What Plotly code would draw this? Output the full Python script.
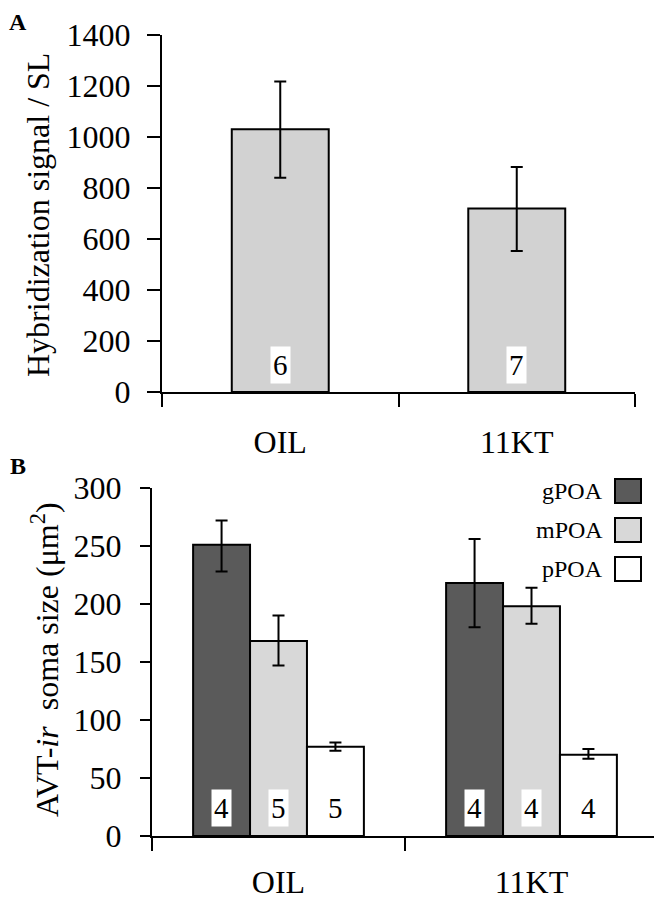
import plotly.graph_objects as go

# groups shared by both panels
groups = ["OIL", "11KT"]

# panel A: hybridization signal / SL
hyb_mean = [1030, 720]
hyb_upper = [1218, 882]
hyb_lower = [840, 553]
hyb_n = [6, 7]

# panel B: AVT-ir soma size by region
regions = ["gPOA", "mPOA", "pPOA"]
g_mean = [251, 218]
m_mean = [168, 198]
p_mean = [77, 70]
g_upper = [272, 256]
m_upper = [190, 214]
p_upper = [80.5, 75]
g_lower = [228, 180]
m_lower = [147, 183]
p_lower = [73.5, 66.5]
g_n = [4, 4]
m_n = [5, 4]
p_n = [5, 4]

region_colors = ["#5a5a5a", "#d8d8d8", "#ffffff"]
serif = "Liberation Serif"

# the page body has an 8px margin, so the figure is drawn 8px in from the window corner
PAGE_OFF = 8
W, H = 662 - PAGE_OFF, 899 - PAGE_OFF


def px_x(v):
    # window pixel -> paper fraction
    return (v - PAGE_OFF) / W


def px_y(v):
    return 1 - (v - PAGE_OFF) / H


fig = go.Figure()

# Panel A bars
fig.add_trace(go.Bar(
    x=groups, y=hyb_mean, width=0.41,
    marker=dict(color="#d2d2d2", line=dict(color="black", width=2)),
    error_y=dict(type="data", symmetric=False,
                 array=[u - m for u, m in zip(hyb_upper, hyb_mean)],
                 arrayminus=[m - l for m, l in zip(hyb_mean, hyb_lower)],
                 color="black", thickness=2, width=6),
    xaxis="x", yaxis="y", showlegend=False, hoverinfo="none"
))

# Panel B bars
bar_w = 0.225
means = [g_mean, m_mean, p_mean]
uppers = [g_upper, m_upper, p_upper]
lowers = [g_lower, m_lower, p_lower]
counts = [g_n, m_n, p_n]
for i, reg in enumerate(regions):
    fig.add_trace(go.Bar(
        x=groups, y=means[i], width=bar_w, offset=(i - 1.5) * bar_w,
        name=reg,
        marker=dict(color=region_colors[i], line=dict(color="black", width=2)),
        error_y=dict(type="data", symmetric=False,
                     array=[u - m for u, m in zip(uppers[i], means[i])],
                     arrayminus=[m - l for m, l in zip(means[i], lowers[i])],
                     color="black", thickness=2, width=6),
        xaxis="x2", yaxis="y2", showlegend=False, hoverinfo="none"
    ))

annotations = []
# sample sizes inside bars
for j, n in enumerate(hyb_n):
    annotations.append(dict(x=j, y=106, xref="x", yref="y", text=str(n), showarrow=False,
                            xanchor="center", yanchor="middle",
                            font=dict(family=serif, size=29, color="black"),
                            bgcolor="white", borderpad=2))
for i in range(len(regions)):
    for j, n in enumerate(counts[i]):
        annotations.append(dict(x=j + (i - 1) * bar_w, y=24, xref="x2", yref="y2", text=str(n),
                                showarrow=False, xanchor="center", yanchor="middle",
                                font=dict(family=serif, size=29, color="black"),
                                bgcolor="white", borderpad=2))

# legend drawn as text + square on the right
shapes = []
for i, reg in enumerate(regions):
    top = 479 + i * 39
    shapes.append(dict(type="rect", xref="paper", yref="paper",
                       x0=px_x(615), x1=px_x(641), y0=px_y(top + 24), y1=px_y(top),
                       fillcolor=region_colors[i], line=dict(color="black", width=2)))
    annotations.append(dict(x=px_x(605), y=px_y(top + 12), xref="paper", yref="paper",
                            xanchor="right", yanchor="middle", text=reg, showarrow=False,
                            font=dict(family=serif, size=24, color="black")))

# axis titles and panel letters
annotations.append(dict(x=px_x(38), y=px_y(215), xref="paper", yref="paper", textangle=-90,
                        xanchor="center", yanchor="middle",
                        text="Hybridization signal / SL", showarrow=False,
                        font=dict(family=serif, size=32, color="black")))
annotations.append(dict(x=px_x(45), y=px_y(660), xref="paper", yref="paper", textangle=-90,
                        xanchor="center", yanchor="middle",
                        text="AVT-<i>ir</i>\u00a0\u00a0soma size (\u03bcm<sup>2</sup>)", showarrow=False,
                        font=dict(family=serif, size=32, color="black")))
annotations.append(dict(x=px_x(18), y=px_y(8), xref="paper", yref="paper",
                        xanchor="center", yanchor="top", borderpad=0,
                        text="<b>A</b>", showarrow=False,
                        font=dict(family=serif, size=24, color="black")))
annotations.append(dict(x=px_x(18), y=px_y(466), xref="paper", yref="paper",
                        xanchor="center", yanchor="middle",
                        text="<b>B</b>", showarrow=False,
                        font=dict(family=serif, size=24, color="black")))

tick_font = dict(family=serif, size=32, color="black")
x_common = dict(type="category", range=[-0.5, 1.5], tickson="boundaries", ticks="outside",
                ticklen=13, tickwidth=2, tickcolor="black", showline=True, linewidth=2,
                linecolor="black", showgrid=False, zeroline=False, tickfont=tick_font,
                automargin=False)
y_common = dict(ticks="outside", tickwidth=2, tickcolor="black", showline=True, linewidth=2,
                linecolor="black", showgrid=False, zeroline=False, tickfont=tick_font,
                automargin=False)

fig.update_layout(
    template="none",
    width=W, height=H,
    margin=dict(l=0, r=0, t=0, b=0, pad=0),
    paper_bgcolor="white", plot_bgcolor="white",
    barmode="group",
    xaxis=dict(domain=[px_x(162), px_x(635)], anchor="y", ticklabelstandoff=21, **x_common),
    yaxis=dict(domain=[px_y(392), px_y(35)], anchor="x", range=[0, 1400], dtick=200,
               ticklen=13, ticklabelstandoff=10, **y_common),
    xaxis2=dict(domain=[px_x(152), px_x(658)], anchor="y2", ticklabelstandoff=17, **x_common),
    yaxis2=dict(domain=[px_y(836), px_y(488)], anchor="x2", range=[0, 300], dtick=50,
                ticklen=10, ticklabelstandoff=12, **y_common),
    annotations=annotations,
    shapes=shapes,
)

fig.write_html("out.html")
